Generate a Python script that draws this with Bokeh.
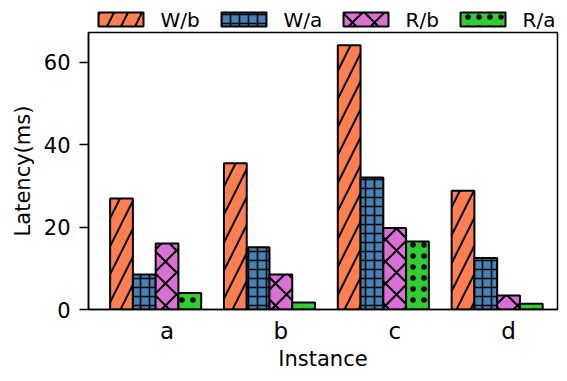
from bokeh.plotting import figure
from bokeh.models import ColumnDataSource, FixedTicker, Range1d
from bokeh.core.properties import value
from bokeh.layouts import column
from bokeh.embed import file_html
from bokeh.resources import INLINE

instances = ["a", "b", "c", "d"]
series = ["W/b", "W/a", "R/b", "R/a"]
wb = [26.9, 35.5, 64.1, 28.8]
wa = [8.5, 15.1, 32.0, 12.5]
rb = [16.0, 8.5, 19.8, 3.4]
ra = [4.0, 1.7, 16.5, 1.4]
values = [wb, wa, rb, ra]
colors = ["#FF7F50", "#4682B4", "#DA70D6", "#32CD32"]
hatches = ["/", "+", "x", "."]
hatch_scales = [28, 9, 22, 11]
hatch_weights = [2, 1.6, 2, 3]
offsets = [-0.3, -0.1, 0.1, 0.3]
bar_w = 0.2

FONT = "DejaVu Sans"
W = 559
LEG_H = 30
H = 373 - LEG_H
BORDER_L, BORDER_R = 88, 2

# legend strip (pixel-like coordinates, y up); its frame is aligned with the main frame
LEG_X = [98, 221, 343, 460]   # left edge of each legend swatch
SW_W, SW_Y0, SW_Y1 = 45, 4, 18
pl = figure(width=W, height=LEG_H, output_backend="svg", toolbar_location=None,
            x_axis_location=None, y_axis_location=None,
            x_range=Range1d(BORDER_L, W - BORDER_R), y_range=Range1d(0, LEG_H),
            min_border_left=BORDER_L, min_border_right=BORDER_R,
            min_border_top=0, min_border_bottom=0, outline_line_color=None)
pl.grid.visible = False

# main chart
p = figure(width=W, height=H, output_backend="svg", toolbar_location=None,
           x_range=Range1d(-0.59, 3.53), y_range=Range1d(0, 67.2),
           min_border_left=BORDER_L, min_border_right=BORDER_R,
           min_border_bottom=58, min_border_top=2)

idx = list(range(len(instances)))
for s, vals, c, h, hs, hw, off, lx in zip(series, values, colors, hatches, hatch_scales,
                                           hatch_weights, offsets, LEG_X):
    style = dict(fill_color=c, line_color="black", line_width=2,
                 hatch_pattern=h, hatch_color="black", hatch_scale=hs, hatch_weight=hw)
    src = ColumnDataSource(dict(x=[i + off for i in idx], top=vals))
    p.vbar(x="x", top="top", width=bar_w, source=src, **style)
    pl.quad(left=[lx], right=[lx + SW_W], bottom=[SW_Y0], top=[SW_Y1], **style)
    pl.text(x=[lx + SW_W + 17], y=[(SW_Y0 + SW_Y1) / 2], text=[s],
            text_font=value(FONT), text_font_size="20px", text_color="black",
            text_baseline="middle", text_align="left")

p.grid.visible = False
p.outline_line_color = "black"
p.outline_line_width = 1.5

p.xaxis.ticker = FixedTicker(ticks=[i + 0.1 for i in idx])
p.xaxis.major_label_overrides = {i + 0.1: n for i, n in zip(idx, instances)}
p.xaxis.major_tick_line_color = None
p.xaxis.major_tick_out = 0
p.xaxis.major_tick_in = 0
p.xaxis.minor_tick_line_color = None
p.xaxis.axis_line_width = 1.5
p.xaxis.major_label_text_font_size = "23px"
p.xaxis.axis_label = "Instance"

p.yaxis.ticker = FixedTicker(ticks=[0, 20, 40, 60])
p.yaxis.minor_tick_line_color = None
p.yaxis.major_tick_in = 0
p.yaxis.major_tick_out = 9
p.yaxis.major_tick_line_width = 1.5
p.yaxis.axis_line_width = 1.5
p.yaxis.major_label_text_font_size = "21px"
p.yaxis.axis_label = "Latency(ms)"

for ax in [p.xaxis, p.yaxis]:
    ax.major_label_text_font = FONT
    ax.axis_label_text_font = FONT
    ax.axis_label_text_font_style = "normal"
    ax.axis_label_text_font_size = "21px"
    ax.major_label_text_color = "black"
    ax.axis_label_text_color = "black"
    ax.axis_line_color = "black"

p.xaxis.major_label_standoff = 8
p.xaxis.axis_label_standoff = 0
p.yaxis.major_label_standoff = 9
p.yaxis.axis_label_standoff = 6

layout = column(pl, p, spacing=0)
open("out.html", "w").write(file_html(layout, INLINE))
